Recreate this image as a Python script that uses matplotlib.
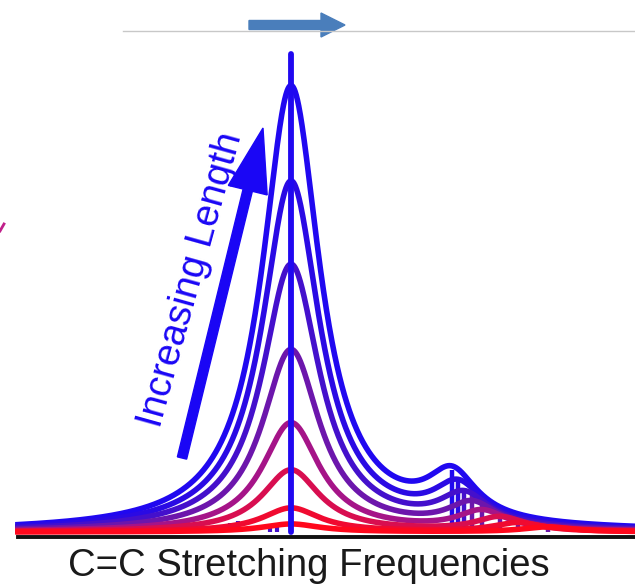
import numpy as np
import matplotlib
matplotlib.use('Agg')
import matplotlib.pyplot as plt
import matplotlib.patches as mpatches

# peak heights of each curve (longest chain first)
main_heights = [445, 350, 267, 182, 109, 62, 24, 8]
main_pos = 291
second_pos = [452, 458, 464, 472, 482, 500, 518, 548]
second_heights = [46, 38, 31, 25, 19, 14, 9, 5]
stick_heights = [62, 52, 44, 37, 29, 21, 14, 8]
small_stick_x = [214, 222, 230, 238, 270, 277]
small_stick_h = [4, 7, 9, 11, 7, 9]
main_stick_top = 478

curve_colors = ['#2008f0', '#2a0ae4', '#4410cc', '#6c16ac', '#a51488', '#d80e50',
                '#f00a30', '#ff081c']

gamma_main = 35
gamma_second = 30


def lorentz(x, h, x0, g):
    return h / (1 + ((x - x0) / g) ** 2)


fig = plt.figure(figsize=(6.35, 5.86), dpi=100)
ax = fig.add_axes([0, 0, 1, 1])
ax.set_xlim(0, 635)
ax.set_ylim(-54, 532)
ax.axis('off')

x = np.linspace(18, 635, 1500)

# secondary sticks
for i in range(len(second_pos)):
    ax.plot([second_pos[i], second_pos[i]], [0, stick_heights[i]],
            color=curve_colors[min(i, 3)], lw=3.2, zorder=1, solid_capstyle='butt')
for sx, sh in zip(small_stick_x, small_stick_h):
    ax.plot([sx, sx], [0, sh], color='#4410cc', lw=3, zorder=1, solid_capstyle='butt')

# curves
for i in range(len(main_heights)):
    y = lorentz(x, main_heights[i], main_pos, gamma_main) + \
        lorentz(x, second_heights[i], second_pos[i], gamma_second)
    ax.plot(x, y, color=curve_colors[i], lw=4.0, zorder=2 + i * 0.01)

# central stick
ax.plot([main_pos, main_pos], [0, main_stick_top], color='#2008f0', lw=4.2,
        zorder=3, solid_capstyle='round')

# baseline
ax.plot([18, 635], [-5, -5], color='#111111', lw=2.8, zorder=4)

# "Increasing Length" arrow and label
arr = mpatches.FancyArrow(182, 532 - 458, 263 - 182, 458 - 128, width=9.5,
                          head_width=40, head_length=64,
                          length_includes_head=True, color='#1a06f5', zorder=5)
ax.add_patch(arr)
ax.text(191, 532 - 280, 'Increasing Length', rotation=74.5, fontsize=27.5,
        family='Liberation Sans', color='#1a06f5', ha='center', va='center')

# top decoration
ax.plot([123, 635], [532 - 31, 532 - 31], color='#c8c8c8', lw=1)
top_arr = mpatches.FancyArrow(249, 532 - 25, 345 - 249, 0, width=9,
                              head_width=24, head_length=24,
                              length_includes_head=True, color='#4a7ebb')
ax.add_patch(top_arr)
ax.plot([0, 4], [532 - 231, 532 - 224], color='#c0208a', lw=2)

ax.text(309, 532 - 566, 'C=C Stretching Frequencies', fontsize=27.5,
        family='Liberation Sans', color='#1a1a1a', ha='center', va='center')

fig.savefig('out.png', dpi=100)
